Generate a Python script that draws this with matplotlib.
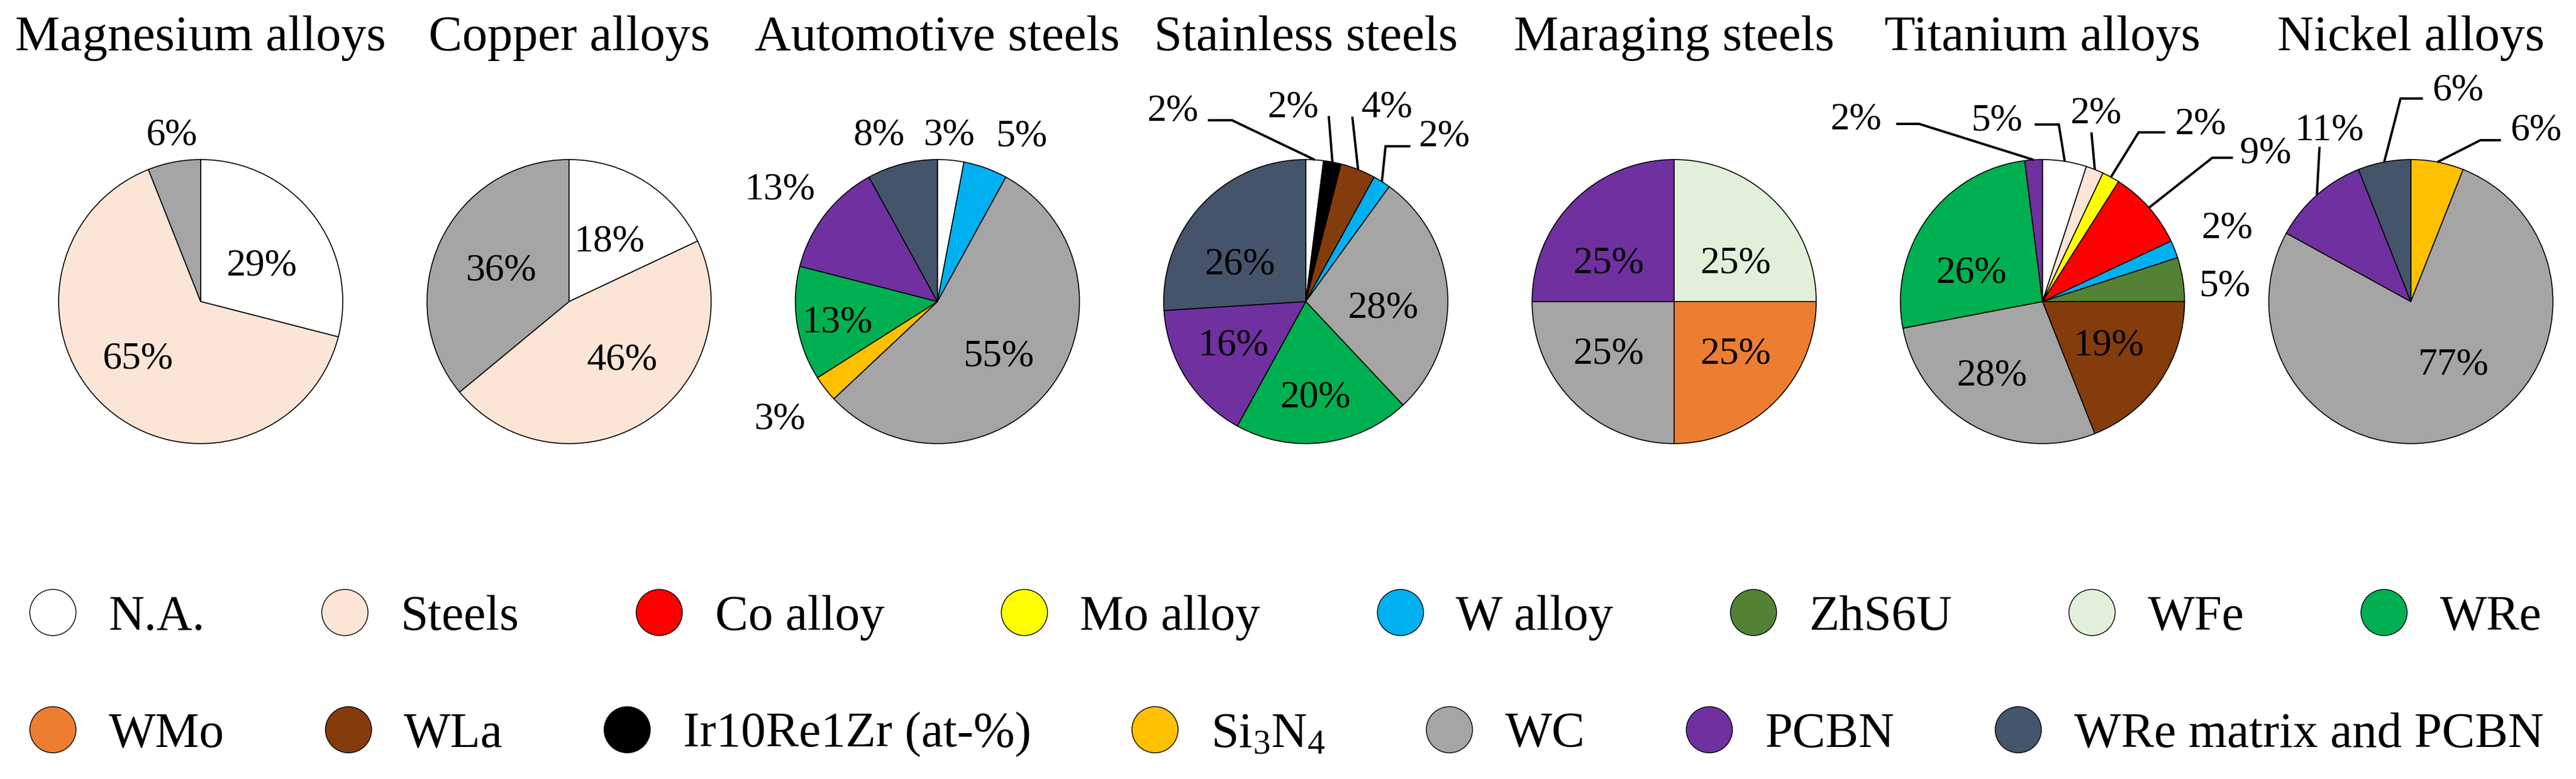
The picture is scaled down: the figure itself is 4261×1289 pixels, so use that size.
import matplotlib
matplotlib.use("Agg")
import matplotlib.pyplot as plt
from matplotlib.lines import Line2D
import numpy as np

plt.rcParams["font.family"] = ["Liberation Serif", "DejaVu Serif"]
plt.rcParams["mathtext.fontset"] = "custom"
plt.rcParams["mathtext.rm"] = "Liberation Serif"
plt.rcParams["mathtext.it"] = "Liberation Serif:italic"

# legend categories and their colours
materials = ["N.A.", "Steels", "Co alloy", "Mo alloy", "W alloy", "ZhS6U", "WFe", "WRe",
             "WMo", "WLa", "Ir10Re1Zr (at-%)", "Si$_3$N$_4$", "WC", "PCBN",
             "WRe matrix and PCBN"]
material_colors = ["#FFFFFF", "#FBE5D6", "#FF0000", "#FFFF00", "#00B0F0", "#548235",
                   "#E2F0D9", "#00B050", "#ED7D31", "#843C0C", "#000000", "#FFC000",
                   "#A5A5A5", "#7030A0", "#44546A"]
color_of = dict(zip(materials, material_colors))

# one pie per workpiece material, slices listed clockwise from 12 o'clock
titles = ["Magnesium alloys", "Copper alloys", "Automotive steels", "Stainless steels",
          "Maraging steels", "Titanium alloys", "Nickel alloys"]

mg_names = ["N.A.", "Steels", "WC"]
mg_vals = [29, 65, 6]
cu_names = ["N.A.", "Steels", "WC"]
cu_vals = [18, 46, 36]
auto_names = ["N.A.", "W alloy", "WC", "Si$_3$N$_4$", "WRe", "PCBN", "WRe matrix and PCBN"]
auto_vals = [3, 5, 55, 3, 13, 13, 8]
ss_names = ["N.A.", "Ir10Re1Zr (at-%)", "WLa", "W alloy", "WC", "WRe", "PCBN",
            "WRe matrix and PCBN"]
ss_vals = [2, 2, 4, 2, 28, 20, 16, 26]
mar_names = ["WFe", "WMo", "WC", "PCBN"]
mar_vals = [25, 25, 25, 25]
ti_names = ["N.A.", "Steels", "Mo alloy", "Co alloy", "W alloy", "ZhS6U", "WLa", "WC",
            "WRe", "PCBN"]
ti_vals = [5, 2, 2, 9, 2, 5, 19, 28, 26, 2]
ni_names = ["Si$_3$N$_4$", "WC", "PCBN", "WRe matrix and PCBN"]
ni_vals = [6, 77, 11, 6]

pies = [(mg_names, mg_vals), (cu_names, cu_vals), (auto_names, auto_vals),
        (ss_names, ss_vals), (mar_names, mar_vals), (ti_names, ti_vals),
        (ni_names, ni_vals)]

# label placement: offset (px) from pie centre, y pointing down
label_pos = [
    [(101, -64), (-104, 90), (-48, -280)],
    [(67, -104), (88, 92), (-112, -57)],
    [(20, -281), (139, -278), (101, 86), (-260, 189), (-166, 30), (-261, -191), (-96, -281)],
    [(-220, -320), (-21, -327), (134, -327), (229, -278), (128, 5), (16, 153),
     (-120, 68), (-109, -66)],
    [(102, -68), (102, 81), (-108, 81), (-108, -68)],
    [(-76, -304), (88, -316), (261, -298), (369, -251), (305, -126), (301, -30),
     (109, 68), (-84, 117), (-118, -53), (-309, -307)],
    [(207, -289), (71, 99), (-135, -289), (78, -354)],
]
# leader knees (px from centre, y down); the last point is the slice edge
leaders = [
    {}, {}, {},
    {0: [(-162, -300), (-122, -300)], 1: [(38, -307)], 2: [(77, -306)],
     3: [(173, -257), (132, -257)]},
    {},
    {0: [(-13, -293), (27, -293)], 1: [(81, -280)], 2: [(203, -280), (159, -280)],
     3: [(315, -238), (281, -238)], 9: [(-242, -294), (-204, -294)]},
    {0: [(149, -267), (115, -267)], 2: [(-151, -256)], 3: [(20, -336), (-17, -336)]},
]

W, H = 4261, 1289
fig = plt.figure(figsize=(W / 100, H / 100), dpi=100)
ax = fig.add_axes([0, 0, 1, 1])

x0, step, cy_down, radius = 332, 609.3, 499, 235

for i, (names, vals) in enumerate(pies):
    cx, cy = x0 + i * step, H - cy_down
    wedges, _ = ax.pie(vals, colors=[color_of[n] for n in names], startangle=90,
                       counterclock=False, center=(cx, cy), radius=radius,
                       wedgeprops=dict(edgecolor="black", linewidth=1.2))
    ax.text(cx, H - 83, titles[i], ha="center", va="baseline", fontsize=60)
    for j, v in enumerate(vals):
        dx, dy = label_pos[i][j]
        ax.text(cx + dx, cy - dy - 21, f"{v}%", ha="center", va="baseline", fontsize=46)
        if j in leaders[i]:
            w = wedges[j]
            mid = np.deg2rad((w.theta1 + w.theta2) / 2)
            xs = [cx + kx for kx, ky in leaders[i][j]] + [cx + radius * np.cos(mid)]
            ys = [cy - ky for kx, ky in leaders[i][j]] + [cy + radius * np.sin(mid)]
            ax.plot(xs, ys, color="black", lw=2.8, solid_capstyle="butt",
                    solid_joinstyle="miter")

ax.set_xlim(0, W)
ax.set_ylim(0, H)
ax.set_aspect("equal")
ax.axis("off")

handles = [Line2D([], [], ls="none", marker="o", markersize=55, markerfacecolor=c,
                  markeredgecolor="black", markeredgewidth=1.0) for c in material_colors]
common = dict(loc="center left", frameon=False, fontsize=59, handlelength=1.0,
              handletextpad=0.63, borderpad=0, borderaxespad=0)
fig.legend(handles[:8], materials[:8], ncol=8, columnspacing=2.32,
           bbox_to_anchor=(46 / W, 1 - 1022 / H), **common)
fig.legend(handles[8:], materials[8:], ncol=7, columnspacing=2.0,
           bbox_to_anchor=(46 / W, 1 - 1216 / H), **common)

fig.savefig("out.png", dpi=100)
